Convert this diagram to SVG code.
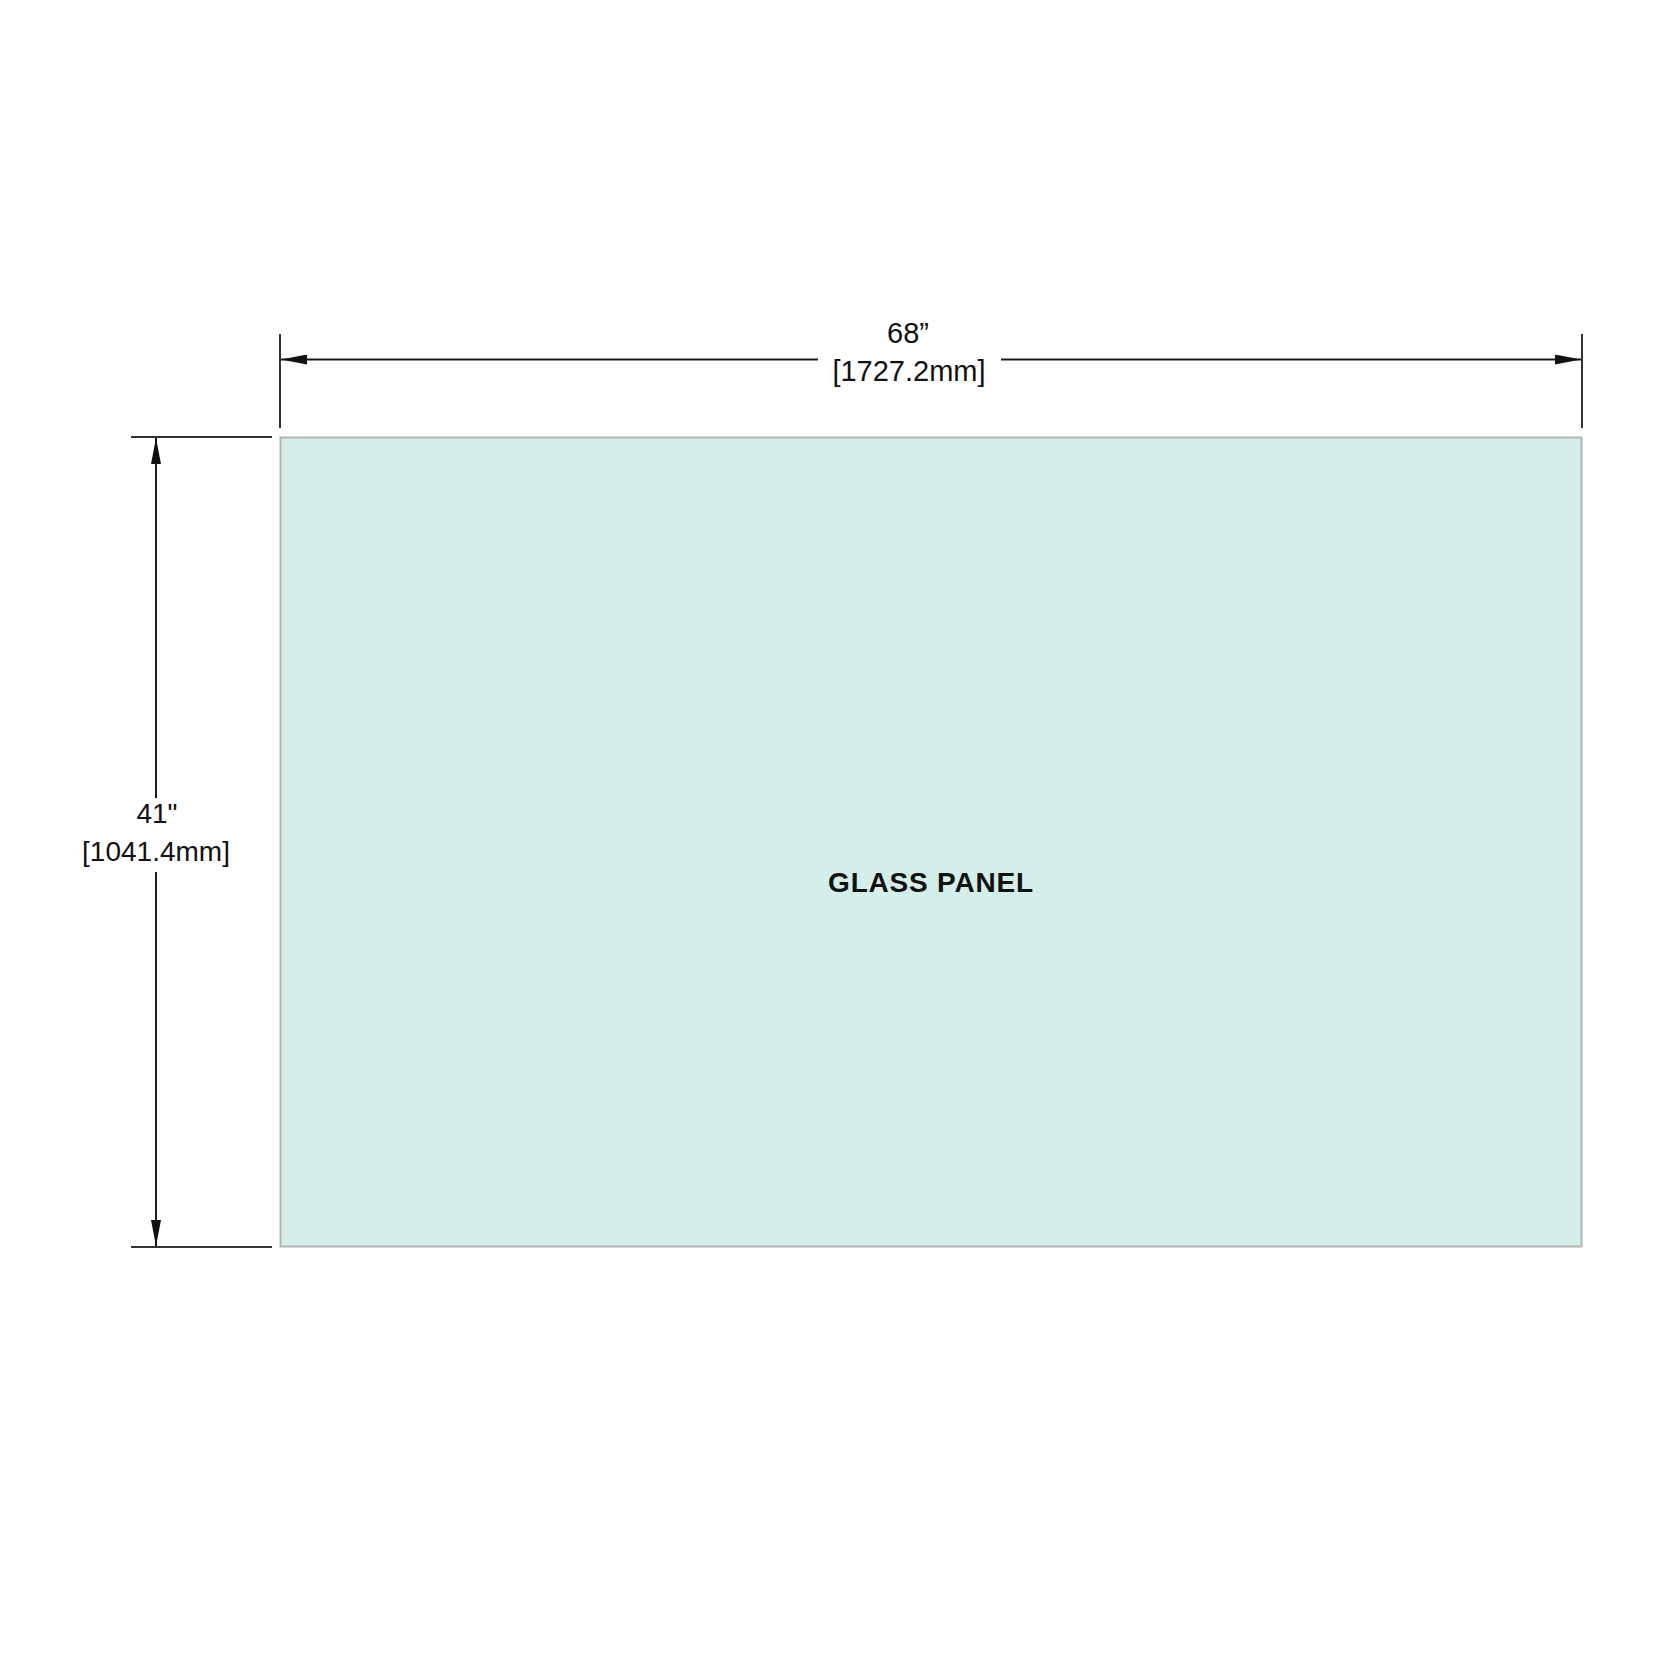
<svg xmlns="http://www.w3.org/2000/svg" width="1667" height="1667" viewBox="0 0 1667 1667">
<defs>
<style>
.dim{stroke:#1a1a1a;stroke-width:2;fill:none}
.ext{stroke:#333;stroke-width:2;fill:none}
.lbl{font-family:"Liberation Sans",Arial,sans-serif;font-size:28px;fill:#111;text-anchor:middle}
.lbl2{font-family:"Liberation Sans",Arial,sans-serif;font-size:29px;fill:#111;text-anchor:middle}
.title{font-family:"Liberation Sans",Arial,sans-serif;font-size:28px;font-weight:bold;fill:#111;text-anchor:middle;letter-spacing:0.8px}
</style>
<marker id="ah" viewBox="0 0 26 10" refX="26" refY="5" markerWidth="26" markerHeight="10" markerUnits="userSpaceOnUse" orient="auto">
<path d="M0,0 L26,5 L0,10 Z" fill="#111"/>
</marker>
</defs>
<rect width="1667" height="1667" fill="#fff"/>
<g id="panel">
<rect x="280.5" y="437.5" width="1301" height="809" fill="#d4eeea" stroke="#b3b3b3" stroke-width="2"/>
<text class="title" x="931" y="892">GLASS PANEL</text>
</g>
<g id="connectors">
<line class="ext" x1="280" y1="334" x2="280" y2="428"/>
<line class="ext" x1="1582" y1="334" x2="1582" y2="428"/>
<line class="dim" x1="818" y1="359.5" x2="281" y2="359.5" marker-end="url(#ah)"/>
<line class="dim" x1="1001" y1="359.5" x2="1581" y2="359.5" marker-end="url(#ah)"/>
<line class="ext" x1="131" y1="437" x2="272" y2="437"/>
<line class="ext" x1="131" y1="1247" x2="272" y2="1247"/>
<line class="dim" x1="156" y1="798" x2="156" y2="438" marker-end="url(#ah)"/>
<line class="dim" x1="156" y1="872" x2="156" y2="1246" marker-end="url(#ah)"/>
</g>
<g id="dim-width">
<text class="lbl2" x="908" y="343">68”</text>
<text class="lbl2" x="909" y="381">[1727.2mm]</text>
</g>
<g id="dim-height">
<text class="lbl" x="157" y="823">41"</text>
<text class="lbl" x="156" y="861">[1041.4mm]</text>
</g>
</svg>
